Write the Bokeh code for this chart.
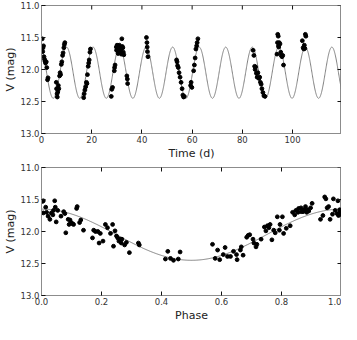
import numpy as np
from bokeh.plotting import figure
from bokeh.layouts import column
from bokeh.models import Range1d, FixedTicker, PrintfTickFormatter
from bokeh.embed import file_html
from bokeh.resources import INLINE

# Sinusoidal model parameters (fit shown in the chart)
PERIOD = 10.57
T0 = 9.96
MEAN = 12.05
AMP = 0.40

time_d = [0.3, 0.5, 0.6, 0.8, 1.0, 1.2, 1.4, 1.6, 1.9, 2.1, 2.4, 2.6,
          5.9, 6.0, 6.2, 6.3, 6.5, 6.7, 6.9, 7.2, 7.4, 7.6, 7.9, 8.1, 8.4, 8.6, 8.9, 9.1, 9.3,
          16.8, 17.0, 17.3, 17.6, 17.9, 18.1, 18.3, 18.6, 18.8, 19.0, 19.3, 19.5,
          27.8, 28.0, 28.3, 29.0, 29.1, 29.3, 29.8, 29.9, 30.1, 30.3, 30.5, 30.7, 30.9, 31.0,
          31.2, 31.4, 31.6, 31.8, 32.0, 32.2, 32.4, 32.6, 32.8, 34.0, 34.2, 34.3,
          41.8, 42.0, 42.1, 42.2, 42.4,
          53.8, 54.0, 54.2, 54.5, 54.8, 55.2, 55.6, 56.0, 56.3, 56.6, 56.9,
          59.4, 59.6, 59.9, 60.6, 60.9, 61.2, 61.5, 61.8, 62.0, 62.3,
          84.3, 84.6, 84.9, 85.1, 85.3, 85.6, 85.9, 86.2, 86.6, 86.9, 87.2, 87.5, 87.8, 88.2, 88.6, 89.0,
          93.8, 94.0, 94.1, 94.3, 94.4, 94.5, 94.7, 95.0, 95.3, 95.5, 95.8, 96.1, 96.4,
          103.9, 104.2, 104.5, 104.7, 104.9, 105.1, 105.3]
time_v = [11.52, 11.72, 11.66, 11.63, 11.80, 11.84, 11.87, 11.90, 11.88, 11.97, 12.16, 12.13,
          12.20, 12.30, 12.38, 12.43, 12.35, 12.25, 12.30, 12.10, 12.05, 12.08, 11.92, 11.88, 11.78, 11.74, 11.66, 11.61, 11.58,
          12.44, 12.38, 12.32, 12.27, 12.20, 12.22, 12.08, 11.95, 11.90, 11.85, 11.73, 11.68,
          12.42, 12.31, 12.28, 12.02, 11.97, 11.93, 11.65, 11.70, 11.62, 11.67, 11.75, 11.64, 11.70, 11.62,
          11.66, 11.72, 11.68, 11.76, 11.52, 11.64, 11.66, 11.73, 11.77, 12.10, 12.15, 12.22,
          11.50, 11.58, 11.65, 11.72, 11.80,
          11.85, 11.88, 11.94, 11.97, 12.05, 12.12, 12.20, 12.30, 12.40, 12.43, 12.42,
          12.25, 12.20, 12.28, 12.02, 11.93, 11.82, 11.68, 11.63, 11.58, 11.52,
          11.70, 11.78, 11.95, 12.00, 11.96, 12.06, 12.12, 12.05, 12.14, 12.12, 12.20, 12.23, 12.30, 12.36, 12.41, 12.42,
          11.76, 11.58, 11.45, 11.48, 11.63, 11.65, 11.58, 11.60, 11.73, 11.78, 11.80, 11.78, 11.93,
          11.55, 11.66, 11.68, 11.62, 11.67, 11.45, 11.48]

phase = [0.003, 0.006, 0.014, 0.006, 0.017, 0.022, 0.028, 0.033, 0.038, 0.040, 0.044, 0.046, 0.049,
         0.054, 0.065, 0.074, 0.078, 0.081, 0.089, 0.095, 0.092, 0.099, 0.104, 0.107, 0.117, 0.119,
         0.127, 0.131, 0.140, 0.170, 0.174, 0.180, 0.188, 0.192, 0.196, 0.205, 0.213, 0.220, 0.230,
         0.237, 0.240, 0.245, 0.250, 0.254, 0.258, 0.264, 0.268, 0.266, 0.277, 0.283, 0.293, 0.323,
         0.326, 0.413, 0.421, 0.430, 0.440, 0.456, 0.462, 0.570, 0.579, 0.587, 0.594, 0.606, 0.612,
         0.620, 0.630, 0.640, 0.650, 0.652, 0.663, 0.666, 0.672, 0.684, 0.689, 0.694, 0.705, 0.708,
         0.715, 0.718, 0.732, 0.743, 0.748, 0.753, 0.758, 0.762, 0.768, 0.774, 0.779, 0.786, 0.793,
         0.795, 0.803, 0.807, 0.816, 0.829, 0.837, 0.844, 0.848, 0.855, 0.857, 0.865, 0.866, 0.872,
         0.874, 0.878, 0.880, 0.884, 0.887, 0.891, 0.897, 0.902, 0.930, 0.938, 0.944, 0.948, 0.952,
         0.957, 0.962, 0.970, 0.973, 0.979, 0.985, 0.988, 0.990, 0.995, 0.997, 0.994]
phase_v = [11.53, 11.52, 11.62, 11.71, 11.70, 11.76, 11.81, 11.71, 11.74, 11.67, 11.52, 11.62, 11.85,
           11.67, 11.76, 11.69, 11.72, 12.02, 11.81, 11.82, 11.89, 11.86, 11.88, 11.89, 11.64, 11.61,
           11.86, 11.82, 11.98, 12.10, 11.98, 12.00, 12.00, 12.18, 12.03, 12.15, 11.89, 11.94, 12.03,
           11.89, 12.23, 11.99, 12.07, 12.10, 12.15, 12.12, 12.12, 12.18, 12.21, 12.17, 12.33, 12.18,
           12.21, 12.43, 12.31, 12.42, 12.45, 12.43, 12.32, 12.20, 12.42, 12.29, 12.44, 12.36, 12.25,
           12.39, 12.39, 12.31, 12.36, 12.44, 12.29, 12.24, 12.37, 12.09, 12.06, 12.05, 12.12, 12.18,
           12.24, 12.20, 12.12, 11.93, 11.99, 11.91, 11.94, 11.89, 12.13, 11.98, 12.02, 11.77, 11.98,
           11.89, 11.77, 12.03, 11.95, 11.91, 11.70, 11.74, 11.67, 11.70, 11.64, 11.63, 11.69, 11.69,
           11.66, 11.67, 11.61, 11.70, 11.66, 11.68, 11.63, 11.56, 11.81, 11.75, 11.46, 11.49, 11.63,
           11.61, 11.81, 11.73, 11.49, 11.67, 11.72, 11.52, 11.75, 11.70, 11.73, 11.66]

time_ticks = [0, 20, 40, 60, 80, 100]
phase_ticks = [0.0, 0.2, 0.4, 0.6, 0.8, 1.0]
mag_ticks = [11.0, 11.5, 12.0, 12.5, 13.0]

TIME_MAX = 119.5
PHASE_MAX = 1.0
MAG_BRIGHT, MAG_FAINT = 11.0, 13.0

FONT = "DejaVu Sans"
SPINE = "#8c8c8c"
TICK = "#111111"


def style(p, xticks, xfmt, xmax):
    p.xgrid.visible = False
    p.ygrid.visible = False
    p.outline_line_color = SPINE
    p.outline_line_width = 1
    p.xaxis.ticker = FixedTicker(ticks=xticks)
    p.xaxis.formatter = PrintfTickFormatter(format=xfmt)
    p.yaxis.ticker = FixedTicker(ticks=mag_ticks)
    p.yaxis.formatter = PrintfTickFormatter(format="%.1f")
    for ax in list(p.xaxis) + list(p.yaxis):
        ax.major_tick_in = 4
        ax.major_tick_out = 0
        ax.minor_tick_line_color = None
        ax.axis_line_color = SPINE
        ax.major_tick_line_color = TICK
        ax.major_label_text_font = FONT
        ax.major_label_text_font_size = "8.5px"
        ax.major_label_text_color = "#333333"
        ax.axis_label_text_font = FONT
        ax.axis_label_text_font_size = "11px"
        ax.axis_label_text_font_style = "normal"
        ax.axis_label_text_color = "#222222"
        ax.major_label_standoff = 2
        ax.axis_label_standoff = 1
    # inward ticks on the top and right edges (clipped to the frame)
    p.scatter(xticks, [MAG_BRIGHT] * len(xticks), marker="dash", size=8, angle=np.pi / 2,
              line_color=TICK, line_width=1)
    p.scatter([xmax] * len(mag_ticks), mag_ticks, marker="dash", size=8,
              line_color=TICK, line_width=1)


# Top: light curve vs time
p1 = figure(width=341, height=162, output_backend="svg", toolbar_location=None,
            x_range=Range1d(0, TIME_MAX), y_range=Range1d(MAG_FAINT, MAG_BRIGHT),
            min_border_left=28, min_border_right=0, min_border_top=5, min_border_bottom=0)
t_model = np.linspace(0, TIME_MAX, 1500)
v_model = MEAN - AMP * np.cos(2 * np.pi * (t_model - T0) / PERIOD)
p1.line(t_model, v_model, line_color="#808080", line_width=1)
p1.scatter(time_d, time_v, size=3.8, color="black")
p1.xaxis.axis_label = "Time (d)"
p1.yaxis.axis_label = "V (mag)"
style(p1, time_ticks, "%d", TIME_MAX)

# Bottom: phase-folded light curve
p2 = figure(width=341, height=162, output_backend="svg", toolbar_location=None,
            x_range=Range1d(0.0, PHASE_MAX), y_range=Range1d(MAG_FAINT, MAG_BRIGHT),
            min_border_left=28, min_border_right=0, min_border_top=5, min_border_bottom=0)
ph_model = np.linspace(0, PHASE_MAX, 400)
pv_model = MEAN - AMP * np.cos(2 * np.pi * ph_model)
p2.line(ph_model, pv_model, line_color="#808080", line_width=1)
p2.scatter(phase, phase_v, size=3.8, color="black")
p2.xaxis.axis_label = "Phase"
p2.yaxis.axis_label = "V (mag)"
style(p2, phase_ticks, "%.1f", PHASE_MAX)

layout = column(p1, p2, spacing=0)
open("out.html", "w").write(file_html(layout, INLINE))
